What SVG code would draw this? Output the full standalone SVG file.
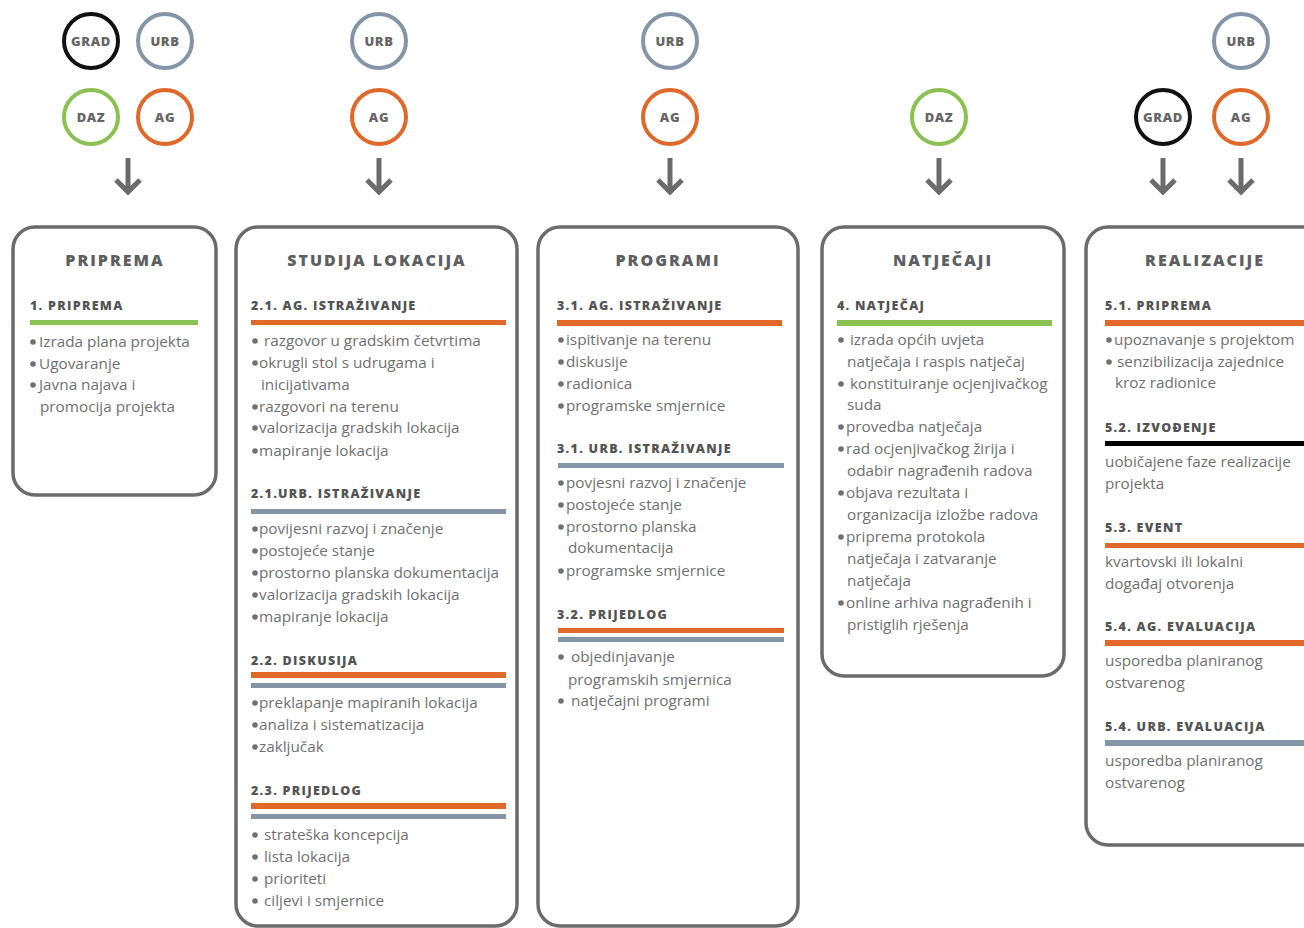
<svg xmlns="http://www.w3.org/2000/svg" width="1304" height="928" viewBox="0 0 1304 928">
<style>
.bg{fill:#ffffff}
.box{fill:#ffffff;stroke:#6b6b6b;stroke-width:3.5}
.c{fill:#ffffff;stroke-width:4}
.cg{stroke:#111111}.cu{stroke:#8495a8}.cd{stroke:#8bc153}.ca{stroke:#e0692a}
.ct{font-family:"Open Sans","Liberation Sans",sans-serif;font-weight:800;font-size:13px;fill:#666666;text-anchor:middle;letter-spacing:0.6px}
.title{font-family:"Open Sans","Liberation Sans",sans-serif;font-weight:800;font-size:16px;fill:#5e5f61;text-anchor:middle;letter-spacing:2px}
.sub{font-family:"Open Sans","Liberation Sans",sans-serif;font-weight:800;font-size:12.5px;fill:#545454;letter-spacing:1.3px}
.it{font-family:"Open Sans","Liberation Sans",sans-serif;font-size:15.3px;fill:#707070}
.o{fill:#e0692a}.u{fill:#8495a8}.g{fill:#8bc153}.k{fill:#000000}
.arr{fill:none;stroke:#6b6b6b;stroke-width:5}
</style>
<defs><circle id="b" cx="0" cy="0" r="2.8" fill="#707070"/></defs>
<rect class="bg" x="0" y="0" width="1304" height="928"/>

<g id="connectors">
<path class="arr" d="M128 158V191M116 180L128 192L140 180"/>
<path class="arr" d="M379 158V191M367 180L379 192L391 180"/>
<path class="arr" d="M670 158V191M658 180L670 192L682 180"/>
<path class="arr" d="M939 158V191M927 180L939 192L951 180"/>
<path class="arr" d="M1163 158V191M1151 180L1163 192L1175 180"/>
<path class="arr" d="M1241 158V191M1229 180L1241 192L1253 180"/>
</g>

<g id="circles-1">
<g id="c1-grad"><circle class="c cg" cx="91" cy="41" r="27"/><text class="ct" x="91" y="46">GRAD</text></g>
<g id="c1-urb"><circle class="c cu" cx="165" cy="41" r="27"/><text class="ct" x="165" y="46">URB</text></g>
<g id="c1-daz"><circle class="c cd" cx="91" cy="117" r="27"/><text class="ct" x="91" y="122">DAZ</text></g>
<g id="c1-ag"><circle class="c ca" cx="165" cy="117" r="27"/><text class="ct" x="165" y="122">AG</text></g>
</g>
<g id="circles-2">
<g id="c2-urb"><circle class="c cu" cx="379" cy="41" r="27"/><text class="ct" x="379" y="46">URB</text></g>
<g id="c2-ag"><circle class="c ca" cx="379" cy="117" r="27"/><text class="ct" x="379" y="122">AG</text></g>
</g>
<g id="circles-3">
<g id="c3-urb"><circle class="c cu" cx="670" cy="41" r="27"/><text class="ct" x="670" y="46">URB</text></g>
<g id="c3-ag"><circle class="c ca" cx="670" cy="117" r="27"/><text class="ct" x="670" y="122">AG</text></g>
</g>
<g id="circles-4">
<g id="c4-daz"><circle class="c cd" cx="939" cy="117" r="27"/><text class="ct" x="939" y="122">DAZ</text></g>
</g>
<g id="circles-5">
<g id="c5-urb"><circle class="c cu" cx="1241" cy="41" r="27"/><text class="ct" x="1241" y="46">URB</text></g>
<g id="c5-grad"><circle class="c cg" cx="1163" cy="117" r="27"/><text class="ct" x="1163" y="122">GRAD</text></g>
<g id="c5-ag"><circle class="c ca" cx="1241" cy="117" r="27"/><text class="ct" x="1241" y="122">AG</text></g>
</g>

<g id="box-priprema">
<rect class="box" x="13" y="227" width="203" height="268" rx="22"/>
<text class="title" x="115" y="266">PRIPREMA</text>
<text class="sub" x="30" y="310">1. PRIPREMA</text>
<rect class="g" x="30" y="320" width="168" height="5"/>
<use href="#b" x="33" y="342"/><text class="it" x="39" y="347">Izrada plana projekta</text>
<use href="#b" x="33" y="364"/><text class="it" x="39" y="369">Ugovaranje</text>
<use href="#b" x="33" y="385"/><text class="it" x="39" y="390">Javna najava i</text>
<text class="it" x="40" y="412">promocija projekta</text>
</g>

<g id="box-studija">
<rect class="box" x="236" y="227" width="281" height="699" rx="22"/>
<text class="title" x="377" y="266">STUDIJA LOKACIJA</text>
<text class="sub" x="251" y="310">2.1. AG. ISTRAŽIVANJE</text>
<rect class="o" x="251" y="320" width="255" height="5"/>
<use href="#b" x="255" y="341"/><text class="it" x="264" y="346">razgovor u gradskim četvrtima</text>
<use href="#b" x="255" y="363"/><text class="it" x="259" y="368">okrugli stol s udrugama i</text>
<text class="it" x="261" y="390">inicijativama</text>
<use href="#b" x="255" y="407"/><text class="it" x="259" y="412">razgovori na terenu</text>
<use href="#b" x="255" y="428"/><text class="it" x="259" y="433">valorizacija gradskih lokacija</text>
<use href="#b" x="255" y="451"/><text class="it" x="259" y="456">mapiranje lokacija</text>
<text class="sub" x="251" y="498">2.1.URB. ISTRAŽIVANJE</text>
<rect class="u" x="251" y="509" width="255" height="5"/>
<use href="#b" x="255" y="529"/><text class="it" x="259" y="534">povijesni razvoj i značenje</text>
<use href="#b" x="255" y="551"/><text class="it" x="259" y="556">postojeće stanje</text>
<use href="#b" x="255" y="573"/><text class="it" x="259" y="578">prostorno planska dokumentacija</text>
<use href="#b" x="255" y="595"/><text class="it" x="259" y="600">valorizacija gradskih lokacija</text>
<use href="#b" x="255" y="617"/><text class="it" x="259" y="622">mapiranje lokacija</text>
<text class="sub" x="251" y="665">2.2. DISKUSIJA</text>
<rect class="o" x="251" y="672" width="255" height="6"/>
<rect class="u" x="251" y="683" width="255" height="5"/>
<use href="#b" x="255" y="703"/><text class="it" x="259" y="708">preklapanje mapiranih lokacija</text>
<use href="#b" x="255" y="725"/><text class="it" x="259" y="730">analiza  i sistematizacija</text>
<use href="#b" x="255" y="747"/><text class="it" x="259" y="752">zaključak</text>
<text class="sub" x="251" y="795">2.3. PRIJEDLOG</text>
<rect class="o" x="251" y="803" width="255" height="6"/>
<rect class="u" x="251" y="814" width="255" height="5"/>
<use href="#b" x="255" y="835"/><text class="it" x="264" y="840">strateška koncepcija</text>
<use href="#b" x="255" y="857"/><text class="it" x="264" y="862">lista lokacija</text>
<use href="#b" x="255" y="879"/><text class="it" x="264" y="884">prioriteti</text>
<use href="#b" x="255" y="901"/><text class="it" x="264" y="906">ciljevi i smjernice</text>
</g>

<g id="box-programi">
<rect class="box" x="538" y="227" width="260" height="699" rx="22"/>
<text class="title" x="668" y="266">PROGRAMI</text>
<text class="sub" x="557" y="310">3.1. AG. ISTRAŽIVANJE</text>
<rect class="o" x="557" y="320" width="225" height="6"/>
<use href="#b" x="561" y="340"/><text class="it" x="566" y="345">ispitivanje na terenu</text>
<use href="#b" x="561" y="362"/><text class="it" x="566" y="367">diskusije</text>
<use href="#b" x="561" y="384"/><text class="it" x="566" y="389">radionica</text>
<use href="#b" x="561" y="406"/><text class="it" x="566" y="411">programske smjernice</text>
<text class="sub" x="557" y="453">3.1. URB. ISTRAŽIVANJE</text>
<rect class="u" x="558" y="463" width="226" height="5"/>
<use href="#b" x="561" y="483"/><text class="it" x="566" y="488">povjesni razvoj i značenje</text>
<use href="#b" x="561" y="505"/><text class="it" x="566" y="510">postojeće stanje</text>
<use href="#b" x="561" y="527"/><text class="it" x="566" y="532">prostorno planska</text>
<text class="it" x="568" y="553">dokumentacija</text>
<use href="#b" x="561" y="571"/><text class="it" x="566" y="576">programske smjernice</text>
<text class="sub" x="557" y="619">3.2. PRIJEDLOG</text>
<rect class="o" x="558" y="628" width="226" height="5"/>
<rect class="u" x="558" y="637" width="226" height="5"/>
<use href="#b" x="561" y="657"/><text class="it" x="571" y="662">objedinjavanje</text>
<text class="it" x="568" y="685">programskih smjernica</text>
<use href="#b" x="561" y="701"/><text class="it" x="571" y="706">natječajni programi</text>
</g>

<g id="box-natjecaji">
<rect class="box" x="822" y="227" width="242" height="449" rx="22"/>
<text class="title" x="943" y="266">NATJEČAJI</text>
<text class="sub" x="837" y="310">4. NATJEČAJ</text>
<rect class="g" x="837" y="320" width="215" height="6"/>
<use href="#b" x="841" y="340"/><text class="it" x="850" y="345">izrada općih uvjeta</text>
<text class="it" x="847" y="367">natječaja i raspis natječaj</text>
<use href="#b" x="841" y="384"/><text class="it" x="850" y="389">konstituiranje ocjenjivačkog</text>
<text class="it" x="847" y="410">suda</text>
<use href="#b" x="841" y="427"/><text class="it" x="846" y="432">provedba natječaja</text>
<use href="#b" x="841" y="449"/><text class="it" x="846" y="454">rad ocjenjivačkog žirija i</text>
<text class="it" x="847" y="476">odabir nagrađenih radova</text>
<use href="#b" x="841" y="493"/><text class="it" x="846" y="498">objava rezultata i</text>
<text class="it" x="847" y="520">organizacija izložbe radova</text>
<use href="#b" x="841" y="537"/><text class="it" x="846" y="542">priprema protokola</text>
<text class="it" x="847" y="564">natječaja i zatvaranje</text>
<text class="it" x="847" y="586">natječaja</text>
<use href="#b" x="841" y="603"/><text class="it" x="846" y="608">online arhiva nagrađenih i</text>
<text class="it" x="847" y="630">pristiglih rješenja</text>
</g>

<g id="box-realizacije">
<rect class="box" x="1086" y="227" width="260" height="618" rx="22"/>
<text class="title" x="1205" y="266">REALIZACIJE</text>
<text class="sub" x="1105" y="310">5.1. PRIPREMA</text>
<rect class="o" x="1105" y="320" width="199" height="6"/>
<use href="#b" x="1109" y="340"/><text class="it" x="1114" y="345">upoznavanje s projektom</text>
<use href="#b" x="1109" y="362"/><text class="it" x="1117" y="367">senzibilizacija zajednice</text>
<text class="it" x="1115" y="388">kroz radionice</text>
<text class="sub" x="1105" y="432">5.2. IZVOĐENJE</text>
<rect class="k" x="1105" y="441" width="199" height="5"/>
<text class="it" x="1105" y="467">uobičajene faze realizacije</text>
<text class="it" x="1105" y="489">projekta</text>
<text class="sub" x="1105" y="532">5.3. EVENT</text>
<rect class="o" x="1105" y="543" width="199" height="5"/>
<text class="it" x="1105" y="567">kvartovski ili lokalni</text>
<text class="it" x="1105" y="589">događaj otvorenja</text>
<text class="sub" x="1105" y="631">5.4. AG. EVALUACIJA</text>
<rect class="o" x="1105" y="640" width="199" height="6"/>
<text class="it" x="1105" y="666">usporedba planiranog</text>
<text class="it" x="1105" y="688">ostvarenog</text>
<text class="sub" x="1105" y="731">5.4. URB. EVALUACIJA</text>
<rect class="u" x="1105" y="740" width="199" height="6"/>
<text class="it" x="1105" y="766">usporedba planiranog</text>
<text class="it" x="1105" y="788">ostvarenog</text>
</g>
</svg>
